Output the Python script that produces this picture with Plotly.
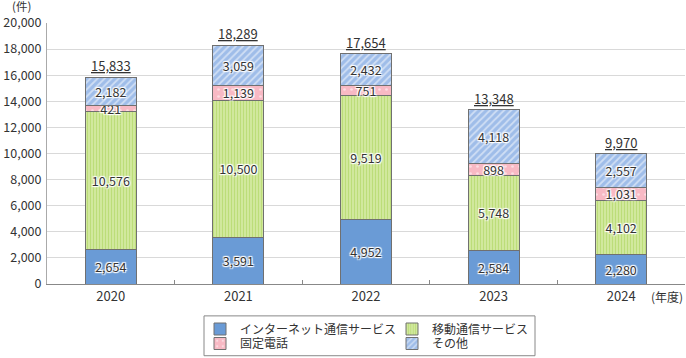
import plotly.graph_objects as go

years = ["2020", "2021", "2022", "2023", "2024"]
internet = [2654, 3591, 4952, 2584, 2280]
mobile = [10576, 10500, 9519, 5748, 4102]
fixed_line = [421, 1139, 751, 898, 1031]
other = [2182, 3059, 2432, 4118, 2557]
totals = [15833, 18289, 17654, 13348, 9970]

names = ["インターネット通信サービス", "移動通信サービス", "固定電話", "その他"]
y_ticks = list(range(0, 20001, 2000))

FONT = "Noto Sans CJK JP, Noto Sans, sans-serif"
TXT = "#333333"
SHADOW = "1px 1px 1px #fff, -1px -1px 1px #fff, 1px -1px 1px #fff, -1px 1px 1px #fff, 0 0 2px #fff"

W, H = 686, 358
PL, PR, PT, PB = 47, 685, 23, 285      # plot area in window pixels
PW, PH = PR - PL, PB - PT

def px_x(x):
    return (x - PL) / PW

def px_y(y):
    return (PB - y) / PH

styles = [
    dict(color="#6a9bd6", pattern=None),
    dict(color="#cde597", pattern=dict(shape="|", fgcolor="#a3cf4e", bgcolor="#d4eaa4", size=3, solidity=0.45)),
    dict(color="#f8b9c4", pattern=dict(shape=".", fgcolor="#ffffff", bgcolor="#f8b9c4", size=7, solidity=0.12)),
    dict(color="#a8c3ec", pattern=dict(shape="/", fgcolor="#ffffff", bgcolor="#9fbde9", size=5, solidity=0.35)),
]
series = [internet, mobile, fixed_line, other]
legend_ids = ["legend", "legend2", "legend3", "legend4"]
# legend cell positions (left x, row-centre y) in window pixels
legend_pos = [(200, 329), (392, 329), (200, 344), (392, 344)]

fig = go.Figure()
for name, vals, st, lg in zip(names, series, styles, legend_ids):
    marker = dict(color=st["color"], line=dict(color="#707070", width=1))
    if st["pattern"]:
        marker["pattern"] = st["pattern"]
    fig.add_trace(go.Bar(
        x=years, y=vals, name=name, marker=marker, width=0.4,
        texttemplate="%{y:,}", textposition="inside", insidetextanchor="middle",
        constraintext="none", textangle=0,
        textfont=dict(family=FONT, size=12.5, color=TXT, shadow=SHADOW),
        legend=lg, hoverinfo="skip",
    ))

for i, t in enumerate(totals):
    fig.add_annotation(x=i, y=t, text=f"<u>{t:,}</u>", showarrow=False,
                       yanchor="bottom", yshift=0,
                       font=dict(family=FONT, size=13, color=TXT))

fig.add_annotation(x=px_x(22), y=1, xref="paper", yref="paper", text="(件)",
                   showarrow=False, xanchor="center", yanchor="bottom", yshift=7,
                   font=dict(family=FONT, size=11.5, color=TXT))
fig.add_annotation(x=1, y=0, xref="paper", yref="paper", text="(年度)",
                   showarrow=False, xanchor="right", yanchor="top", yshift=-2,
                   font=dict(family=FONT, size=12, color=TXT))

# legend frame
fig.add_shape(type="rect", xref="paper", yref="paper",
              x0=px_x(204), x1=px_x(535), y0=px_y(357), y1=px_y(317),
              line=dict(color="#888888", width=1), fillcolor="rgba(0,0,0,0)")

legend_common = dict(orientation="v", yanchor="top", xanchor="left",
                     font=dict(family=FONT, size=12, color=TXT),
                     bgcolor="rgba(0,0,0,0)", borderwidth=0, traceorder="normal",
                     tracegroupgap=0)
legends = {lg: dict(x=px_x(lx), y=px_y(cy - 14.5), **legend_common)
           for lg, (lx, cy) in zip(legend_ids, legend_pos)}

fig.update_layout(
    width=W, height=H,
    margin=dict(l=PL, r=W - PR, t=PT, b=H - PB),
    barmode="stack",
    plot_bgcolor="white", paper_bgcolor="white",
    font=dict(family=FONT, size=12, color=TXT),
    showlegend=True,
    **legends,
    xaxis=dict(type="category", range=[-0.5, 4.5], showgrid=False, showline=True,
               linecolor="#888888", automargin=False,
               ticks="inside", tickson="boundaries", ticklen=4, tickcolor="#888888",
               tickangle=0, tickfont=dict(family=FONT, size=13, color=TXT)),
    yaxis=dict(range=[0, 20000], tickvals=y_ticks, tickformat=",", automargin=False,
               showgrid=True, gridcolor="#d9d9d9", gridwidth=1,
               showline=True, linecolor="#aaaaaa", zeroline=False, ticks="",
               ticklabelstandoff=2,
               tickfont=dict(family=FONT, size=12.5, color=TXT)),
)

fig.write_html("out.html", config={"displayModeBar": False},
               post_script="document.body.style.margin='0';")
